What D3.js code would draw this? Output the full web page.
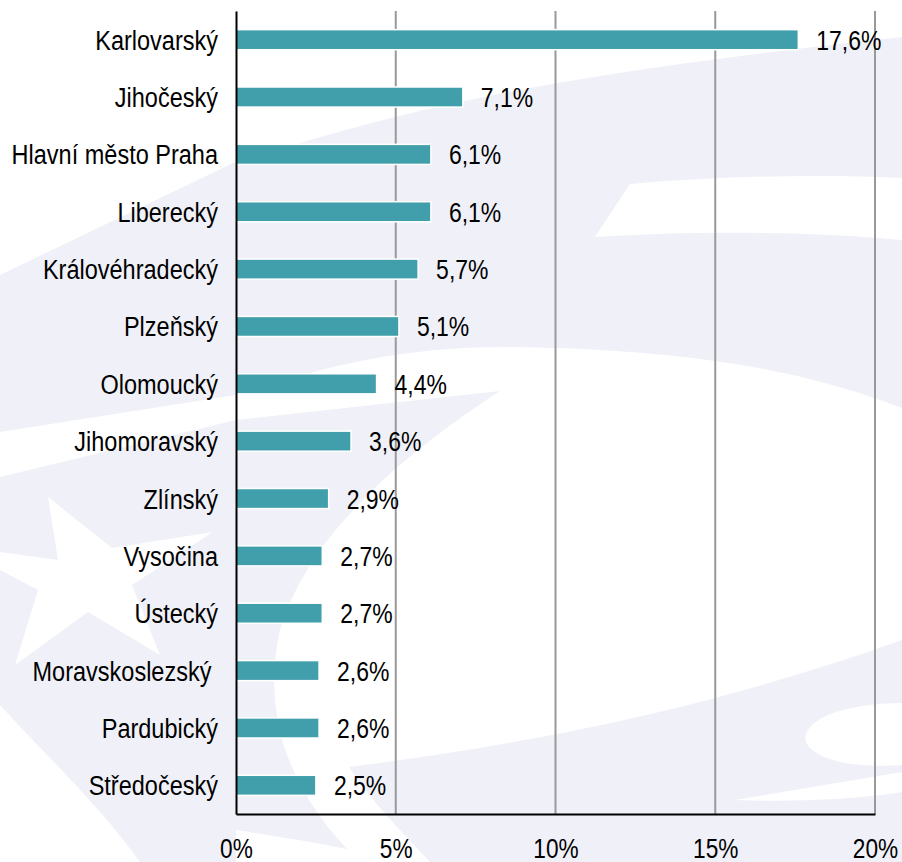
<!DOCTYPE html>
<html>
<head>
<meta charset="utf-8">
<script src="https://cdn.jsdelivr.net/npm/d3@7"></script>
<style>
    html, body { margin: 0; padding: 0; background: #fff; }
    svg { display: block; }
    text { font-family: "Liberation Sans", Arial, sans-serif; fill: #000; }
</style>
</head>
<body>
<svg id="chart" width="902" height="862"></svg>
<script>
// Regions, sorted as in the source chart
const regions = [
    "Karlovarský", "Jihočeský", "Hlavní město Praha", "Liberecký",
    "Královéhradecký", "Plzeňský", "Olomoucký", "Jihomoravský",
    "Zlínský", "Vysočina", "Ústecký", "Moravskoslezský ",
    "Pardubický", "Středočeský"
];
const shares = [17.6, 7.1, 6.1, 6.1, 5.7, 5.1, 4.4, 3.6, 2.9, 2.7, 2.7, 2.6, 2.6, 2.5];
const xTicks = [0, 5, 10, 15, 20];

const W = 902, H = 862;
const margin = { top: 11, right: 27, bottom: 48, left: 236 };
const innerW = W - margin.left - margin.right;
const innerH = H - margin.top - margin.bottom;

const barColor = "#419eab";
const gridColor = "#999";
const wmColor = "#f0f1f8";

const svg = d3.select("#chart");

// Faint watermark in the background
const wm = svg.append("g").attr("class", "watermark");
wm.append("path").attr("fill", wmColor)
    .attr("d", "M0,275 L233,163 C400,112 520,78 902,37 L902,408 C800,368 680,350 520,347 C400,345 320,368 236,395 L0,432 Z");
wm.append("path").attr("fill", "#fff")
    .attr("d", "M630,184 C720,176 820,174 902,178 L902,240 C820,232 700,230 595,237 Z");
wm.append("path").attr("fill", wmColor)
    .attr("d", "M0,477 L236,420 L500,391 C410,450 310,530 280,630 C262,710 285,790 360,862 L0,862 Z");
wm.append("path").attr("fill", "#fff")
    .attr("d", "M48,497 L112,548 L213,532 L132,585 L160,655 L88,612 L15,665 L38,590 L0,570 L0,552 L58,560 Z");
wm.append("path").attr("fill", "#fff")
    .attr("d", "M0,705 C50,760 95,800 140,862 L0,862 Z");
wm.append("path").attr("fill", wmColor)
    .attr("d", "M349,767 C520,745 700,712 902,640 L902,862 L430,862 C400,830 370,800 349,767 Z");
wm.append("path").attr("fill", "#fff")
    .attr("d", "M902,703 C840,703 800,722 806,742 C815,762 860,768 902,765 Z");
wm.append("path").attr("fill", "#fff")
    .attr("d", "M735,800 L902,772 L902,792 C850,800 790,802 735,800 Z");
wm.append("path").attr("fill", "#fff")
    .attr("d", "M236,830 C300,840 360,850 400,862 L236,862 Z");

const g = svg.append("g").attr("transform", `translate(${margin.left},${margin.top})`);

const x = d3.scaleLinear().domain([0, 20]).range([0, innerW]);
const y = d3.scaleBand().domain(regions).range([0, innerH]).paddingInner(0.65).paddingOuter(0.325);

// Vertical gridlines
g.append("g")
    .selectAll("line")
    .data(xTicks.filter(d => d > 0))
    .join("line")
    .attr("x1", d => x(d)).attr("x2", d => x(d))
    .attr("y1", 0).attr("y2", innerH)
    .attr("stroke", gridColor)
    .attr("stroke-width", 2);

// Bars
g.append("g")
    .selectAll("rect")
    .data(regions)
    .join("rect")
    .attr("x", x(0))
    .attr("y", d => y(d))
    .attr("width", (d, i) => x(shares[i]) - x(0))
    .attr("height", y.bandwidth())
    .attr("fill", barColor)
    .attr("stroke", "#fff")
    .attr("stroke-width", 1.5);

// Value labels
g.append("g")
    .selectAll("text")
    .data(regions)
    .join("text")
    .attr("transform", (d, i) => `translate(${x(shares[i]) + 18},${y(d) + y.bandwidth() / 2 + 10}) scale(0.82,1)`)
    .attr("font-size", 28)
    .text((d, i) => shares[i].toFixed(1).replace(".", ",") + "%");

// Y axis
const yAxis = g.append("g").call(d3.axisLeft(y).tickSize(0).tickPadding(0));
yAxis.select(".domain").attr("stroke", "#000").attr("stroke-width", 2);
yAxis.selectAll("text")
    .attr("x", 0).attr("dy", null)
    .attr("font-size", 28)
    .attr("font-family", null)
    .attr("fill", "#000")
    .style("white-space", "pre")
    .attr("transform", "translate(-18,10) scale(0.84,1)");

// X axis
const xAxis = g.append("g")
    .attr("transform", `translate(0,${innerH})`)
    .call(d3.axisBottom(x).tickValues(xTicks).tickFormat(d => d + "%").tickSize(0).tickPadding(0));
xAxis.select(".domain").attr("stroke", "#000").attr("stroke-width", 2);
xAxis.selectAll("text")
    .attr("y", 0).attr("dy", null)
    .attr("font-size", 27)
    .attr("font-family", null)
    .attr("fill", "#000")
    .attr("transform", "translate(0,44) scale(0.84,1)");
</script>
</body>
</html>
